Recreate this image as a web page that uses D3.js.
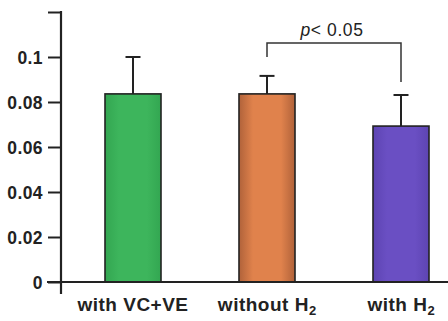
<!DOCTYPE html>
<html lang="en">
<head>
<meta charset="UTF-8">
<title>Bar chart with error bars</title>
<script src="https://d3js.org/d3.v7.min.js"></script>
<style>
    body, html { margin: 0; background: #fff; }
    svg { display: block; }
    .tick text { font-family: "Liberation Sans", Arial, sans-serif; font-weight: bold; font-size: 17.5px; fill: #222; letter-spacing: 0.4px; }
    .cat { font-family: "Liberation Sans", Arial, sans-serif; font-weight: bold; font-size: 19px; fill: #222; letter-spacing: 0.5px; }
    .pval { font-family: "Liberation Sans", Arial, sans-serif; font-size: 17.5px; fill: #222; letter-spacing: 0.6px; }
</style>
</head>
<body>
<svg width="448" height="321"></svg>
<script>
    // data
    const categories = ["with VC+VE", "without H", "with H"];
    const subscripts = ["", "2", "2"];
    const means = [0.0836, 0.0836, 0.0693];
    const errors = [0.0164, 0.008, 0.0138];
    const barColors = ["#3db55c", "#e0824c", "#6a4fc3"];
    const edgeColors = ["#33a651", "#b0623a", "#5d44b2"];
    const yTicks = [0, 0.02, 0.04, 0.06, 0.08, 0.1, 0.12];
    const yTickLabels = ["0", "0.02", "0.04", "0.06", "0.08", "0.1", ""];
    // significance bracket: between categories 1 and 2, top level and leg ends
    const bracket = { from: 1, to: 2, top: 0.1062, leftEnd: 0.1, rightEnd: 0.0889, label: "0.05" };

    const svg = d3.select("svg");
    const ink = "#222";

    const y = d3.scaleLinear().domain([0, 0.12]).range([282, 12]);
    const x = d3.scalePoint().domain(categories).range([133, 401]);
    const barW = 56;

    // gradients for the shaded look of the bars
    const defs = svg.append("defs");
    categories.forEach((c, i) => {
        const g = defs.append("linearGradient").attr("id", "g" + i)
            .attr("x1", "0%").attr("x2", "100%").attr("y1", "0%").attr("y2", "0%");
        g.append("stop").attr("offset", "0%").attr("stop-color", edgeColors[i]);
        g.append("stop").attr("offset", "25%").attr("stop-color", barColors[i]);
        g.append("stop").attr("offset", "75%").attr("stop-color", barColors[i]);
        g.append("stop").attr("offset", "100%").attr("stop-color", edgeColors[i]);
    });

    // bars
    svg.selectAll("rect.bar")
        .data(categories)
        .enter().append("rect")
        .attr("class", "bar")
        .attr("x", d => x(d) - barW / 2)
        .attr("y", (d, i) => y(means[i]))
        .attr("width", barW)
        .attr("height", (d, i) => y(0) - y(means[i]))
        .attr("fill", (d, i) => "url(#g" + i + ")")
        .attr("stroke", ink)
        .attr("stroke-width", 1.6);

    // error bars (upper only)
    const err = svg.selectAll("g.err")
        .data(categories)
        .enter().append("g")
        .attr("class", "err")
        .attr("stroke", ink)
        .attr("stroke-width", 2);
    err.append("line")
        .attr("x1", d => x(d)).attr("x2", d => x(d))
        .attr("y1", (d, i) => y(means[i]))
        .attr("y2", (d, i) => y(means[i] + errors[i]));
    err.append("line")
        .attr("x1", d => x(d) - 7.5).attr("x2", d => x(d) + 7.5)
        .attr("y1", (d, i) => y(means[i] + errors[i]))
        .attr("y2", (d, i) => y(means[i] + errors[i]));

    // y axis
    const yAxis = svg.append("g")
        .attr("transform", "translate(61,0)")
        .call(d3.axisLeft(y)
            .tickValues(yTicks)
            .tickFormat((d, i) => yTickLabels[i])
            .tickSize(13)
            .tickPadding(5)
            .tickSizeOuter(0));
    yAxis.select(".domain").remove();
    yAxis.selectAll(".tick line").attr("stroke", ink).attr("stroke-width", 2);
    yAxis.selectAll(".tick text").attr("dy", "0.36em");
    svg.append("line")
        .attr("x1", 61).attr("x2", 61)
        .attr("y1", y(0.12) - 1).attr("y2", y(0) + 12)
        .attr("stroke", ink).attr("stroke-width", 2.2);

    // baseline
    svg.append("line")
        .attr("x1", 47).attr("x2", 448)
        .attr("y1", y(0)).attr("y2", y(0))
        .attr("stroke", ink).attr("stroke-width", 2.2);

    // category labels
    const cat = svg.selectAll("text.cat")
        .data(categories)
        .enter().append("text")
        .attr("class", "cat")
        .attr("x", d => x(d))
        .attr("y", 311)
        .attr("text-anchor", "middle");
    cat.append("tspan").text(d => d);
    cat.filter((d, i) => subscripts[i] !== "")
        .append("tspan")
        .attr("dy", 4)
        .attr("font-size", "13px")
        .attr("letter-spacing", "0px")
        .text(d => subscripts[categories.indexOf(d)]);

    // significance bracket
    const bx1 = x(categories[bracket.from]), bx2 = x(categories[bracket.to]);
    svg.append("path")
        .attr("d", d3.line()([
            [bx1, y(bracket.leftEnd)], [bx1, y(bracket.top)],
            [bx2, y(bracket.top)], [bx2, y(bracket.rightEnd)]
        ]))
        .attr("fill", "none")
        .attr("stroke", "#333")
        .attr("stroke-width", 1.5);
    const pt = svg.append("text")
        .attr("class", "pval")
        .attr("x", (bx1 + bx2) / 2 - 2)
        .attr("y", 36)
        .attr("text-anchor", "middle");
    pt.append("tspan").attr("font-style", "italic").text("p");
    pt.append("tspan").text("< " + bracket.label);
</script>
</body>
</html>
